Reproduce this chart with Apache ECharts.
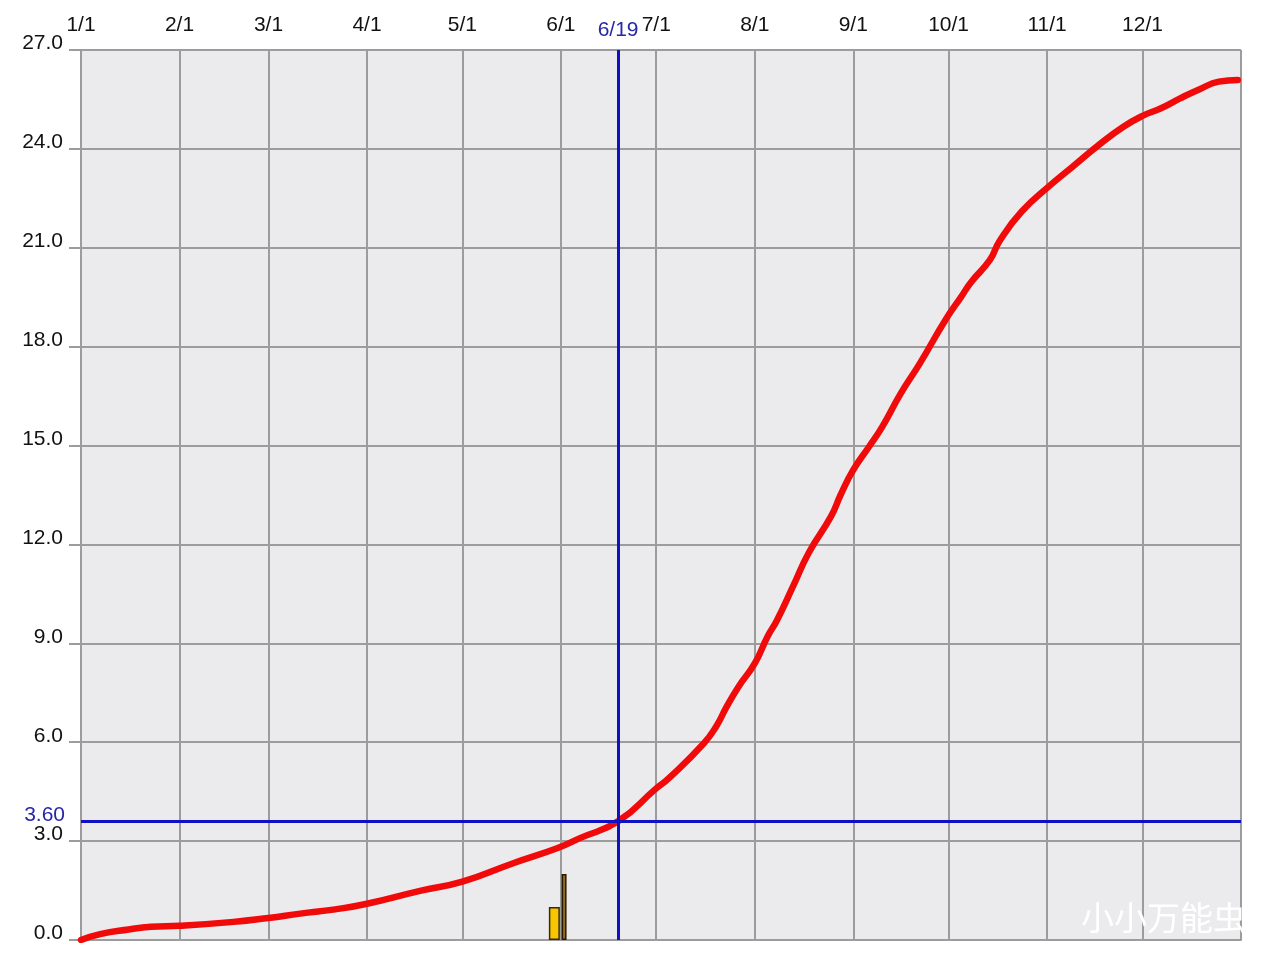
<!DOCTYPE html>
<html><head><meta charset="utf-8">
<script src="https://cdn.jsdelivr.net/npm/echarts@6/dist/echarts.min.js"></script>
<style>html,body{margin:0;padding:0;background:#fff}#c{width:1280px;height:960px}</style>
</head><body><div id="c"></div>
<script>
// ---- data ----
const monthLengths = [31,28,31,30,31,30,31,31,30,31,30,31];
const monthTickLabels = ['1/1','2/1','3/1','4/1','5/1','6/1','7/1','8/1','9/1','10/1','11/1','12/1'];
const yTickValues = [0,3,6,9,12,15,18,21,24,27];

const curveDates = ['1/1','1/7','1/16','1/23','2/1','2/18','3/1','3/11','3/22','4/1','4/18','5/1','5/17','5/31','6/7','6/19',
  '7/1','7/5','7/16','7/20','7/23','7/27','8/1','8/5','8/8','8/13','8/18','8/25','8/28','9/1','9/6','9/10','9/16','9/22','9/30',
  '10/5','10/8','10/14','10/17','10/24','11/2','11/9','11/17','11/25','12/1','12/7','12/13','12/19','12/25','12/31'];
const curveValues = [0,0.18,0.32,0.40,0.43,0.55,0.67,0.80,0.93,1.10,1.50,1.77,2.33,2.79,3.09,3.60,
  4.60,4.91,5.97,6.50,7.05,7.70,8.39,9.20,9.70,10.72,11.75,12.85,13.50,14.26,14.97,15.55,16.59,17.50,18.81,
  19.52,19.95,20.63,21.20,22.10,22.90,23.46,24.10,24.67,25.00,25.24,25.54,25.81,26.04,26.09];

const barDateA = ['5/29'], barValueA = [1.0];
const barDateB = ['6/2'],  barValueB = [2.0];

const markDate = '6/19';
const markLevel = 3.6;
const markLevelLabel = '3.60';
const watermark = '小小万能虫';

// ---- build axis categories (one per day, plus closing boundary) ----
const categories = [];
monthLengths.forEach((n, m) => { for (let d = 1; d <= n; d++) categories.push((m + 1) + '/' + d); });
categories.push('end');
const monthStartSet = new Set(monthTickLabels.map(l => categories.indexOf(l)));
const lastIdx = categories.length - 1;
const isGrid = (i) => monthStartSet.has(i) || i === lastIdx;

const FONT = '"Liberation Sans", Arial, sans-serif';
const GRAY = '#9c9c9c';

const chart = echarts.init(document.getElementById('c'));
chart.setOption({
  animation: false,
  backgroundColor: '#ffffff',
  grid: { left: 81, right: 39, top: 50, bottom: 20, show: true, backgroundColor: '#ebebed', borderWidth: 0 },
  xAxis: {
    type: 'category', position: 'top', boundaryGap: false, data: categories,
    axisLine: { show: true, lineStyle: { color: GRAY, width: 2 } },
    axisTick: { show: true, length: 12, interval: (i) => isGrid(i), lineStyle: { color: GRAY, width: 2 } },
    axisLabel: { show: true, interval: (i) => monthStartSet.has(i), margin: 14, color: '#111', fontSize: 21, fontFamily: FONT },
    splitLine: { show: true, interval: (i) => isGrid(i), lineStyle: { color: GRAY, width: 2 } }
  },
  yAxis: {
    type: 'value', min: 0, max: 27, interval: 3,
    axisLine: { show: true, lineStyle: { color: GRAY, width: 2 } },
    axisTick: { show: true, length: 12, lineStyle: { color: GRAY, width: 2 } },
    axisLabel: { margin: 18, color: '#111', fontSize: 21, fontFamily: FONT, verticalAlign: 'bottom', lineHeight: 13,
      formatter: (v) => yTickValues.includes(v) ? v.toFixed(1) : '' },
    splitLine: { show: true, lineStyle: { color: GRAY, width: 2 } }
  },
  series: [
    { type: 'bar', name: 'a', barWidth: 11, barGap: '-100%', z: 2,
      itemStyle: { color: '#f7c600', borderColor: '#3a2a00', borderWidth: 1.5 },
      data: barDateA.map((d, i) => [categories.indexOf(d), barValueA[i]]) },
    { type: 'bar', name: 'b', barWidth: 5, barGap: '-100%', z: 2,
      itemStyle: { color: '#8b6b1d', borderColor: '#2a1a00', borderWidth: 1.5 },
      data: barDateB.map((d, i) => [categories.indexOf(d), barValueB[i]]) },
    { type: 'line', name: 'curve', z: 3, symbol: 'none', smooth: 0.5,
      lineStyle: { color: '#f00a0a', width: 6.5, cap: 'round', join: 'round' },
      data: curveDates.map((d, i) => [categories.indexOf(d), curveValues[i]]) },
    { type: 'line', name: 'guides', z: 5, data: [],
      markLine: {
        silent: true, symbol: 'none', animation: false,
        lineStyle: { color: '#1010c4', width: 3, type: 'solid' },
        data: [
          { xAxis: markDate, label: { show: true, position: 'end', formatter: markDate, distance: 9,
              color: '#2727a8', fontSize: 21, fontFamily: FONT } },
          { yAxis: markLevel, label: { show: true, position: 'start', formatter: markLevelLabel, distance: 16,
              verticalAlign: 'bottom', lineHeight: 13, color: '#2727a8', fontSize: 21, fontFamily: FONT } }
        ]
      }
    }
  ],
  graphic: [
    { type: 'text', x: 1081, y: 901, z: 100,
      style: { text: watermark, fill: '#ffffff', font: '33px "Noto Sans CJK SC"', verticalAlign: 'top', align: 'left',
        shadowColor: 'rgba(0,0,0,0.6)', shadowBlur: 3, shadowOffsetX: 1, shadowOffsetY: 1 } }
  ]
});
</script>
</body></html>
